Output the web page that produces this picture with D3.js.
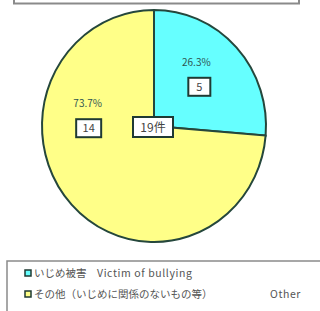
<!DOCTYPE html>
<html lang="ja">
  <head>
    <meta charset="UTF-8">
    <script src="https://d3js.org/d3.v7.min.js"></script>
    <style>
      html, body {
        margin: 0;
        padding: 0;
        background: #fff;
      }
      #graph {
        display: block;
        width: 320px;
        height: 311px;
      }
      text {
        font-family: "Noto Sans CJK JP", "DejaVu Sans", sans-serif;
      }
    </style>
  </head>

  <body>
    <svg id="graph" width="320" height="311"></svg>

    <script>
      //
      // Data.
      //
      let categories = ['いじめ被害', 'その他（いじめに関係のないもの等）'];
      let englishLabels = ['Victim of bullying', 'Other'];
      let counts = [5, 14];
      let percentLabels = ['26.3%', '73.7%'];
      let totalLabel = '19件';
      let colors = ['#66ffff', '#ffff88'];

      let width = 320;
      let height = 311;

      let cx = 154;
      let cy = 126;
      let rx = 112;
      let ry = 116;

      let graph = d3.select('#graph')
        .attr('viewBox', `0 0 ${width} ${height}`);

      //
      // Bottom edge of the box that sits above the chart.
      //
      graph
        .append('rect')
        .attr('x', 14)
        .attr('y', -20)
        .attr('width', 285)
        .attr('height', 23.5)
        .attr('fill', 'none')
        .attr('stroke', '#8a8a8a')
        .attr('stroke-width', 2);

      //
      // Pie.
      //
      let pie = d3.pie().sort(null).value(d => d);
      let arcs = pie(counts);
      let arc = d3.arc().innerRadius(0).outerRadius(ry);
      let labelArc = d3.arc().innerRadius(ry * 0.55).outerRadius(ry * 0.55);

      let pieGroup = graph
        .append('g')
        .attr('transform', `translate(${cx},${cy}) scale(${rx / ry},1)`);

      pieGroup
        .selectAll('path')
        .data(arcs)
        .enter()
        .append('path')
        .attr('d', arc)
        .attr('fill', (d, i) => colors[i])
        .attr('stroke', '#25473c')
        .attr('stroke-width', 2)
        .attr('vector-effect', 'non-scaling-stroke');

      //
      // Slice labels: percentage above a boxed count.
      // Excel nudged them away from the centroid, hence the offsets.
      //
      let labelPos = arcs.map(d => {
        let c = labelArc.centroid(d);
        return [cx + c[0] * rx / ry, cy + c[1]];
      });
      let boxOffset = [[0, 4], [-20, -41]];
      let pctOffset = [[-3, -17], [-21, -62]];
      let boxWidth = [22, 25];

      graph
        .selectAll('.pct')
        .data(arcs)
        .enter()
        .append('text')
        .attr('class', 'pct')
        .attr('x', (d, i) => labelPos[i][0] + pctOffset[i][0])
        .attr('y', (d, i) => labelPos[i][1] + pctOffset[i][1])
        .attr('text-anchor', 'middle')
        .attr('font-size', 10)
        .attr('fill', '#2f5552')
        .text((d, i) => percentLabels[i]);

      let countBoxes = graph
        .selectAll('.count')
        .data(arcs)
        .enter()
        .append('g')
        .attr('class', 'count')
        .attr('transform', (d, i) =>
          `translate(${labelPos[i][0] + boxOffset[i][0]},${labelPos[i][1] + boxOffset[i][1]})`);

      countBoxes
        .append('rect')
        .attr('x', (d, i) => -boxWidth[i] / 2)
        .attr('y', -9)
        .attr('width', (d, i) => boxWidth[i])
        .attr('height', 18)
        .attr('fill', '#fff')
        .attr('stroke', '#1f3a33')
        .attr('stroke-width', 2);

      countBoxes
        .append('text')
        .attr('y', 4)
        .attr('text-anchor', 'middle')
        .attr('font-size', 11)
        .attr('fill', '#444')
        .text(d => d.value);

      //
      // Total in the middle.
      //
      let total = graph
        .append('g')
        .attr('transform', `translate(${cx - 1},${cy + 1})`);

      total
        .append('rect')
        .attr('x', -20)
        .attr('y', -10)
        .attr('width', 40)
        .attr('height', 20)
        .attr('fill', '#fff')
        .attr('stroke', '#1f3a33')
        .attr('stroke-width', 2);

      total
        .append('text')
        .attr('y', 5)
        .attr('text-anchor', 'middle')
        .attr('font-size', 12)
        .attr('fill', '#444')
        .text(totalLabel);

      //
      // Legend.
      //
      graph
        .append('rect')
        .attr('x', 7)
        .attr('y', 261)
        .attr('width', 330)
        .attr('height', 80)
        .attr('fill', '#fff')
        .attr('stroke', '#8a8a8a')
        .attr('stroke-width', 1.5);

      let legend = graph
        .selectAll('.legend')
        .data(categories)
        .enter()
        .append('g')
        .attr('class', 'legend')
        .attr('transform', (d, i) => `translate(25,${273 + i * 21})`);

      legend
        .append('rect')
        .attr('x', 0)
        .attr('y', -3)
        .attr('width', 6)
        .attr('height', 6)
        .attr('fill', (d, i) => colors[i])
        .attr('stroke', '#1f3a33')
        .attr('stroke-width', 1.5);

      legend
        .append('text')
        .attr('x', 9)
        .attr('y', 4)
        .attr('font-size', 10.5)
        .attr('fill', '#555')
        .text(d => d);

      legend
        .append('text')
        .attr('x', (d, i) => i === 0 ? 72 : 245)
        .attr('y', 4)
        .attr('font-size', 10.5)
        .attr('letter-spacing', 0.6)
        .attr('fill', '#555')
        .text((d, i) => englishLabels[i]);
    </script>
  </body>
</html>
